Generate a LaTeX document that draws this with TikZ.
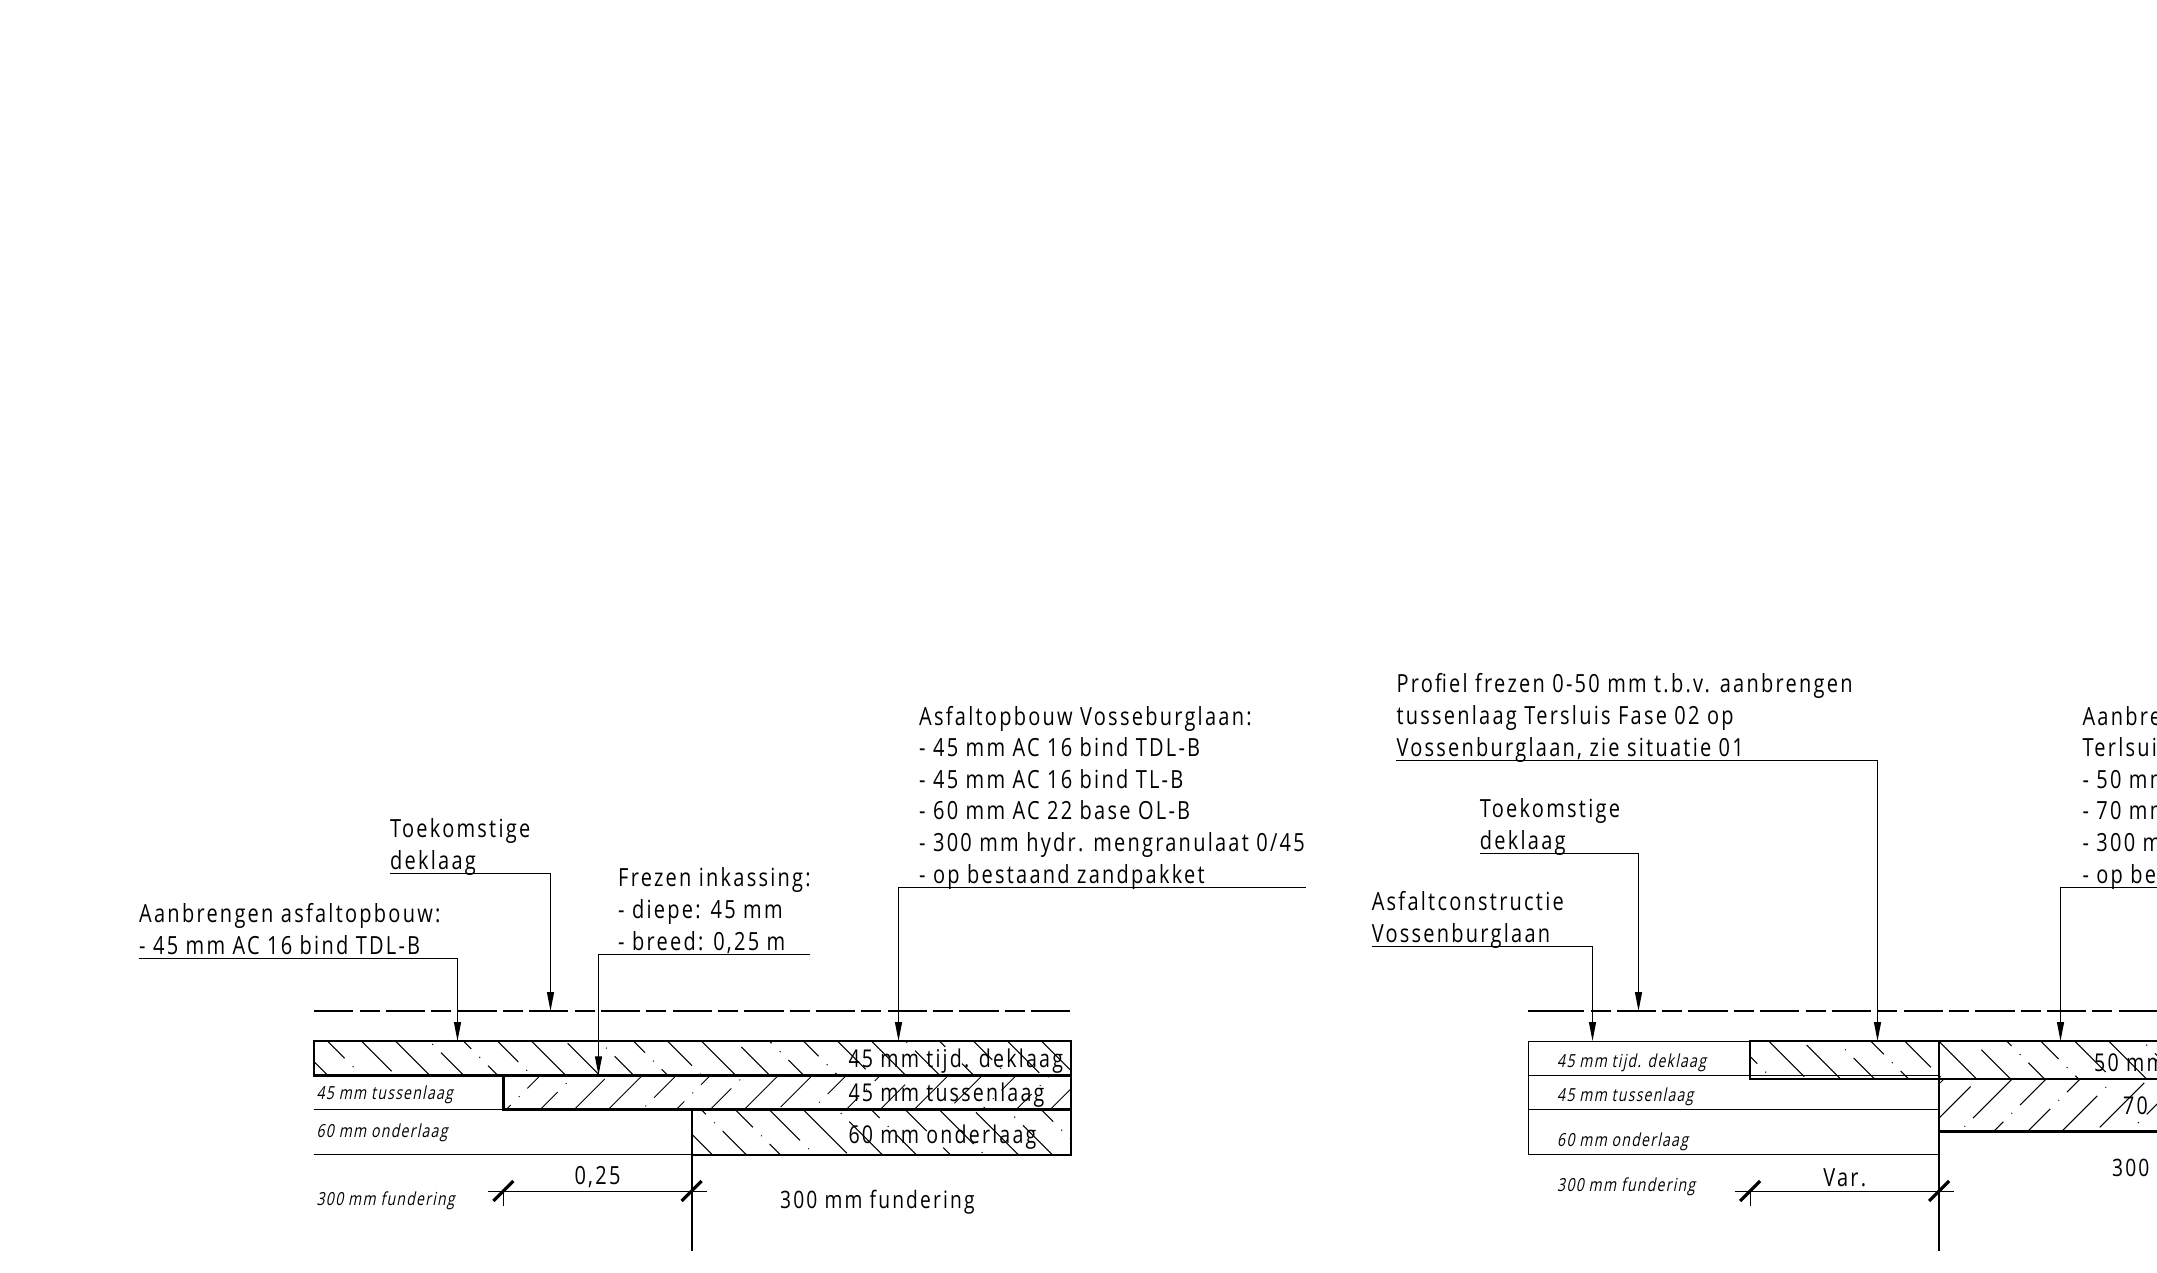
\documentclass[tikz,border=0pt]{standalone}
\usepackage{fontspec}
\usepackage{tikz}
\usetikzlibrary{arrows.meta}
\usetikzlibrary{positioning}
\setmainfont[FakeStretch=0.8,LetterSpace=9]{Open Sans}
\newfontfamily\smallfont[FakeStretch=0.78,FakeSlant=0.2,LetterSpace=7]{Open Sans}

\tikzset{
	note/.style={align=left,inner sep=0pt,anchor=base west,font=\fontsize{25}{31.6}\selectfont},
	layertext/.style={inner sep=0pt,anchor=base west,font=\fontsize{24.5}{30}\selectfont},
	basetext/.style={inner sep=0pt,anchor=base west,font=\fontsize{24}{30}\selectfont},
	smalltext/.style={inner sep=0pt,anchor=base west,font=\fontsize{18}{24}\smallfont},
	dimtext/.style={inner sep=0pt,anchor=base,font=\fontsize{25}{30}\selectfont},
	leader/.style={line width=1.2pt,-{Triangle[length=19pt,width=7pt]}},
	thinline/.style={line width=1.2pt},
	layer/.style={line width=2.4pt},
	axis/.style={line width=1.8pt},
	ticker/.style={line width=3.2pt},
	roadsolid/.style={line width=2.2pt},
	roadline/.style={roadsolid,dash pattern=on 39.3pt off 6.2pt on 20pt off 6.2pt},
	hatchline/.style={line width=1pt,dash pattern=on 63.1pt off 11.5pt on 1pt off 11.1pt}
}

\newcommand{\hatchstrip}[8]{
	\begin{scope}
		\clip (#1,#2) rectangle (#3,#4);
		\foreach \n in {0,...,#8} {
			\pgfmathsetmacro{\ys}{#7+#5*(mod(13*\n,61.33)-122.66)}
			\pgfmathsetmacro{\xs}{#6+34*\n+#5*\ys}
			\draw[hatchline] (\xs,\ys) -- ++(250,#5*250);
		}
	\end{scope}
}
\newcommand{\dimtick}[1]{\draw[ticker] (#1-10,1200) -- (#1+10,1180);}

\begin{document}
\begin{tikzpicture}[x=1pt,y=-1pt]
	\useasboundingbox (0,-1) rectangle (2157,1271);
	\clip (0,-1) rectangle (2157,1271);

	\hatchstrip{314}{1040}{1071}{1074}{1}{-780.67}{1048}{24}
	\hatchstrip{503.3}{1074}{1071}{1108}{-1}{1546.7}{1113.3}{19}
	\hatchstrip{691.7}{1108}{1071}{1153.7}{1}{-475.3}{1104}{13}
	\hatchstrip{1750}{1040}{1939}{1078}{1}{660.67}{1005}{7}
	\hatchstrip{1939}{1040}{2157}{1078}{1}{864.67}{1022.7}{8}
	\hatchstrip{1939}{1078}{2157}{1130.3}{-1}{2988}{1156}{9}

	\draw[roadline] (314,1010) -- (1071,1010);
	\draw[roadsolid] (1528.3,1010) -- (1560,1010);
	\draw[roadline] (1545,1010) -- (2157,1010);

	\draw[layer] (314,1040) rectangle (1071,1074.3);
	\draw[layer] (503.3,1074.3) rectangle (1071,1108.3);
	\draw[layer] (691.7,1108.3) rectangle (1071,1153.7);
	\draw[thinline] (314,1108.5) -- (503.3,1108.5);
	\draw[thinline] (314,1153.5) -- (691.7,1153.5);
	\draw[axis] (691.7,1153.7) -- (691.7,1250);
	\draw[thinline] (488,1190.5) -- (707,1190.5);
	\draw[thinline] (503.5,1190.5) -- (503.5,1205);
	\dimtick{503.3}
	\dimtick{691.7}

	\draw[thinline] (1528.5,1040.5) rectangle (1939,1153.5);
	\draw[thinline] (1528.5,1074.5) -- (1939,1074.5);
	\draw[thinline] (1528.5,1108.5) -- (1939,1108.5);
	\draw[layer] (1750,1040) rectangle (1939,1078);
	\draw[layer] (1939,1040) rectangle (2170,1078);
	\draw[layer] (1939,1078) rectangle (2170,1130.3);
	\draw[axis] (1939,1130.3) -- (1939,1250);
	\draw[thinline] (1735,1190.5) -- (1954,1190.5);
	\draw[thinline] (1750.5,1190.5) -- (1750.5,1205);
	\dimtick{1750}
	\dimtick{1939}

	\node[layertext] (topleft) at (848.3,1066.7) {45 mm tijd. deklaag};
	\node[layertext] (midleft) at (848.3,1100.7) {45 mm tussenlaag};
	\node[layertext] (lowleft) at (848.3,1142.7) {60 mm onderlaag};
	\node[basetext] (baseleft) at (780,1207) {300 mm fundering};
	\node[layertext] (topright) at (2094,1070.5) {50 mm};
	\node[layertext] (midright) at (2123,1113) {70};
	\node[basetext] (baseright) at (2112,1175) {300};

	\node[smalltext] (smallmidleft) at (316.5,1098.3) {45 mm tussenlaag};
	\node[smalltext] (smalllowleft) at (316.5,1136.7) {60 mm onderlaag};
	\node[smalltext] (smallbaseleft) at (316.5,1204) {300 mm fundering};
	\node[smalltext] (smalltopright) at (1557,1066.6) {45 mm tijd. deklaag};
	\node[smalltext] (smallmidright) at (1557,1100.7) {45 mm tussenlaag};
	\node[smalltext] (smalllowright) at (1557,1145.8) {60 mm onderlaag};
	\node[smalltext] (smallbaseright) at (1557,1190.6) {300 mm fundering};

	\node[dimtext] (dimleft) at (597.5,1183) {0,25};
	\node[dimtext] (dimright) at (1844.7,1185) {Var.};

	\node[note] (buildnote) at (139,953) {Aanbrengen asfaltopbouw:\\- 45 mm AC 16 bind TDL-B};
	\node[note] (futureleft) at (390,868) {Toekomstige\\deklaag};
	\node[note] (millnote) at (618,949) {Frezen inkassing:\\- diepe: 45 mm\\- breed: 0,25 m};
	\node[note] (roadnote) at (919,882) {Asfaltopbouw Vosseburglaan:\\- 45 mm AC 16 bind TDL-B\\- 45 mm AC 16 bind TL-B\\- 60 mm AC 22 base OL-B\\- 300 mm hydr. mengranulaat 0/45\\- op bestaand zandpakket};
	\node[note] (profilenote) at (1396.3,755) {Profiel frezen 0-50 mm t.b.v. aanbrengen\\tussenlaag Tersluis Fase 02 op\\Vossenburglaan, zie situatie 01};
	\node[note] (futureright) at (1479.7,848) {Toekomstige\\deklaag};
	\node[note] (oldnote) at (1371.6,941) {Asfaltconstructie\\Vossenburglaan};
	\node[note] (newnote) at (2082.3,882) {Aanbre\\Terlsui\\- 50 mm\\- 70 mm\\- 300 m\\- op be};

	\coordinate (buildtip) at (457.5,1040);
	\coordinate (futurelefttip) at (550.5,1010);
	\coordinate (milltip) at (598.5,1074.3);
	\coordinate (millend) at (810,953.5);
	\coordinate (roadtip) at (898.5,1040);
	\coordinate (roadend) at (1305.5,886.5);
	\coordinate (profiletip) at (1877.5,1040);
	\coordinate (futurerighttip) at (1638.5,1010);
	\coordinate (oldtip) at (1592.5,1040);
	\coordinate (newtip) at (2060.5,1040);
	\coordinate (newend) at (2157,886.5);

	\draw[leader] ([yshift=-4.5pt]buildnote.base west) -| (buildtip);
	\draw[leader] ([yshift=-4.5pt]futureleft.base west) -| (futurelefttip);
	\draw[leader] (millend) -| (milltip);
	\draw[leader] (roadend) -| (roadtip);
	\draw[leader] ([yshift=-4.5pt]profilenote.base west) -| (profiletip);
	\draw[leader] ([yshift=-4.5pt]futureright.base west) -| (futurerighttip);
	\draw[leader] ([yshift=-4.5pt]oldnote.base west) -| (oldtip);
	\draw[leader] (newend) -| (newtip);
\end{tikzpicture}
\end{document}
